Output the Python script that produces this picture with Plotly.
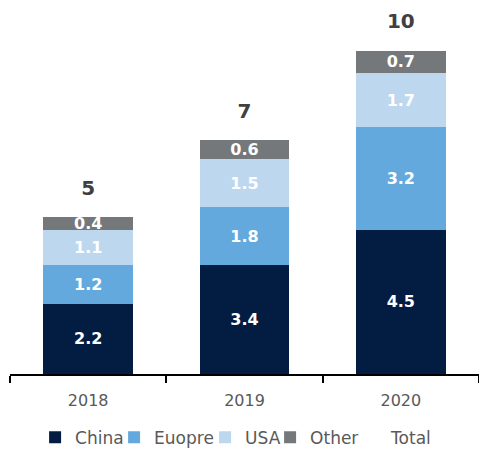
import plotly.graph_objects as go

years = ["2018", "2019", "2020"]
china = [2.2, 3.4, 4.5]
europe = [1.2, 1.8, 3.2]
usa = [1.1, 1.5, 1.7]
other = [0.4, 0.6, 0.7]
totals = [5, 7, 10]

series = [
    ("China", china, "#031d42", 34),
    ("Euopre", europe, "#64a9dd", 46),
    ("USA", usa, "#bdd7ef", 20),
    ("Other", other, "#75787b", 36),
]

FONT = "DejaVu Sans"
fig = go.Figure()
for name, vals, col, lw in series:
    fig.add_trace(go.Bar(
        x=years, y=vals, name=name, marker=dict(color=col, line=dict(width=0)),
        texttemplate="%{y:.1f}", textposition="inside", insidetextanchor="middle",
        textfont=dict(family=FONT, size=16, color="white", weight="bold"),
        constraintext="none", cliponaxis=False, legendwidth=lw,
    ))

stack_top = [a + b + c + d for a, b, c, d in zip(china, europe, usa, other)]
fig.add_trace(go.Scatter(
    x=years, y=stack_top, name="Total", mode="markers+text",
    text=[str(t) for t in totals], textposition="top center",
    marker=dict(size=26, color="rgba(0,0,0,0)"),
    textfont=dict(family=FONT, size=20, color="#404040", weight="bold"),
    cliponaxis=False, hoverinfo="skip", legendwidth=40,
))

fig.update_layout(
    barmode="stack", bargap=0.425,
    width=479, height=456,
    margin=dict(l=10, r=0, t=0, b=80),
    plot_bgcolor="white", paper_bgcolor="white",
    uniformtext=dict(minsize=16, mode="show"),
    font=dict(family=FONT, size=16, color="#595959"),
    showlegend=True,
    legend=dict(orientation="h", x=0.481, xanchor="center", y=-0.17, yanchor="middle",
                font=dict(family=FONT, size=17, color="#595959"),
                itemwidth=30, traceorder="normal", tracegroupgap=0),
    xaxis=dict(showline=True, linecolor="#000000", linewidth=1.5,
               ticks="outside", tickson="boundaries", ticklen=7, tickcolor="#000000",
               tickwidth=1.5, ticklabelstandoff=11,
               tickfont=dict(family=FONT, size=16, color="#595959"),
               showgrid=False),
    yaxis=dict(visible=False, range=[0, 11.68], showgrid=False, zeroline=False),
)

fig.write_html("out.html")
